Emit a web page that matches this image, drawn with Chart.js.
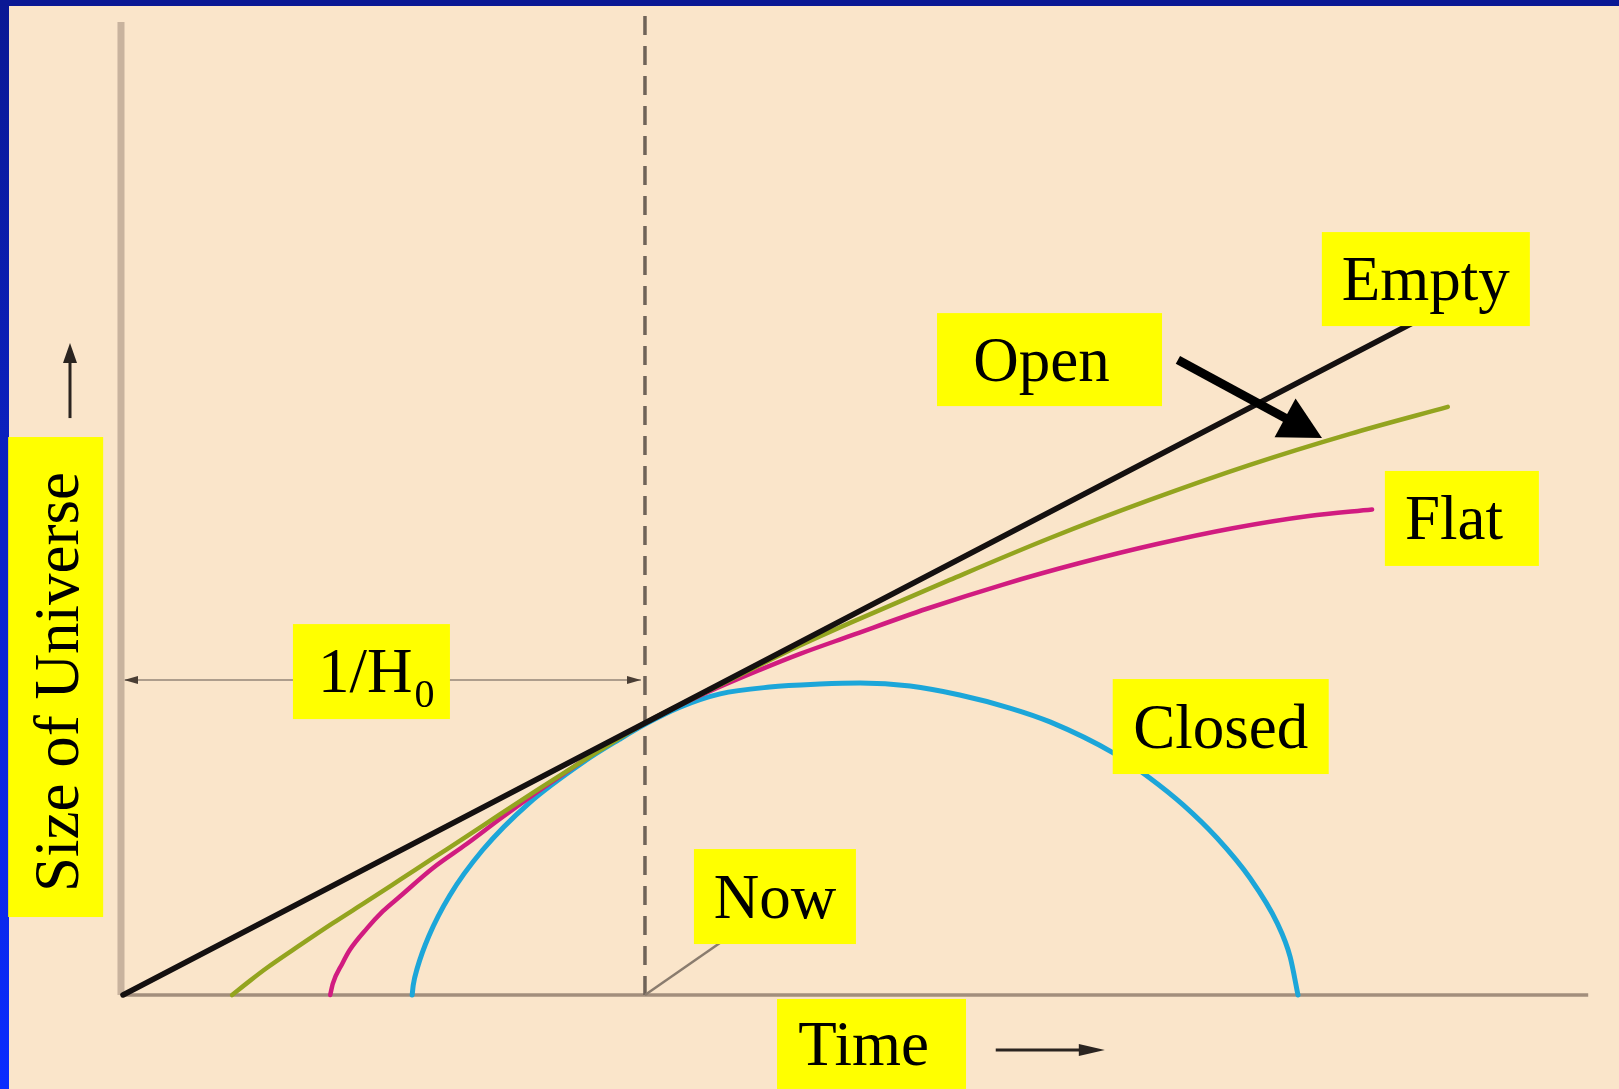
<!DOCTYPE html>
<html><head><meta charset="utf-8">
<script src="https://cdn.jsdelivr.net/npm/chart.js@4.4.1/dist/chart.umd.min.js"></script>
<style>html,body{margin:0;padding:0;background:#fae6ca;overflow:hidden}canvas{display:block}</style>
</head><body>
<canvas id="c" width="1619" height="1089" style="width:1619px;height:1089px"></canvas>
<script>
// Time in units of the Hubble time 1/H0; size relative to today's size (Now = 1)
const emptyTime  = [0, 1, 2.6];
const emptySize  = [0, 1, 2.6];
const openTime   = [0.209, 0.243, 0.276, 0.339, 0.402, 0.467, 0.531, 0.594, 0.659, 0.722, 0.785, 0.851, 0.914, 1.0, 1.105, 1.201, 1.297, 1.393, 1.584, 1.776, 1.967, 2.159, 2.351, 2.538];
const openSize   = [0, 0.052, 0.100, 0.183, 0.264, 0.344, 0.424, 0.503, 0.584, 0.664, 0.743, 0.824, 0.900, 1.0, 1.103, 1.195, 1.285, 1.368, 1.526, 1.680, 1.820, 1.949, 2.063, 2.162];
const flatTime   = [0.397, 0.402, 0.420, 0.435, 0.467, 0.498, 0.531, 0.594, 0.659, 0.722, 0.785, 0.851, 0.914, 1.0, 1.105, 1.220, 1.297, 1.393, 1.540, 1.686, 1.833, 1.979, 2.126, 2.272, 2.393];
const flatSize   = [0, 0.042, 0.115, 0.167, 0.244, 0.308, 0.363, 0.467, 0.556, 0.647, 0.735, 0.822, 0.904, 1.0, 1.100, 1.195, 1.254, 1.320, 1.420, 1.509, 1.588, 1.657, 1.716, 1.761, 1.785];
const closedTime = [0.554, 0.556, 0.564, 0.586, 0.626, 0.689, 0.777, 0.887, 0.951, 1.0, 1.067, 1.144, 1.239, 1.335, 1.412, 1.508, 1.603, 1.699, 1.776, 1.897, 1.967, 2.031, 2.096, 2.159, 2.211, 2.236, 2.251];
const closedSize = [0, 0.035, 0.100, 0.217, 0.366, 0.533, 0.704, 0.863, 0.940, 0.995, 1.058, 1.107, 1.132, 1.143, 1.147, 1.136, 1.103, 1.055, 1.004, 0.890, 0.798, 0.699, 0.577, 0.430, 0.265, 0.140, 0];

const nowTime = 1;          // the "Now" instant = 1/H0 after the Big Bang
const timeAxisEnd = 2.807;  // right end of the time axis
const sizeAxisEnd = 3.577;  // top of the size axis
const nowLineTop = 3.60;    // top of the dashed "now" line
const hubbleArrowSize = 1.158; // height of the 1/H0 double arrow

const labelTexts = ['Empty', 'Open', 'Flat', 'Closed', 'Now', 'Time', '1/H', 'Size of Universe'];

// ---- layout / styling (not data) ----
const X_MIN = -0.2356, X_MAX = 2.866, Y_MIN = -0.3456, Y_MAX = 3.658;
const labelLayout = {
  'Empty':  {t: 2.496, a: 2.632, w: 208, h: 94, dx: 0},
  'Open':   {t: 1.775, a: 2.336, w: 225, h: 93, dx: -8},
  'Flat':   {t: 2.565, a: 1.752, w: 154, h: 95, dx: -8},
  'Closed': {t: 2.103, a: 0.987, w: 216, h: 95, dx: 0},
  'Now':    {t: 1.249, a: 0.362, w: 162, h: 95, dx: 0},
  'Time':   {t: 1.434, a: -0.180, w: 189, h: 90, dx: -8},
  '1/H':    {t: 0.476, a: 1.189, w: 157, h: 95, dx: 0},
  'Size of Universe': {t: -0.129, a: 1.169, w: 95, h: 480, dx: 0}
};
const arrowLayout = {
  open:  {t1: 2.021, a1: 2.335, t2: 2.297, a2: 2.048},
  size:  {t1: -0.1015, a1: 2.121, t2: -0.1015, a2: 2.397},
  time:  {t1: 1.672, a1: -0.202, t2: 1.881, a2: -0.202},
  leader:{t1: 1.0, a1: 0, t2: 1.18, a2: 0.24}
};
const FONT = '"Liberation Serif","Times New Roman",serif';

const pts = (xs, ys) => xs.map((x, i) => ({x: x, y: ys[i]}));

function arrow(ctx, x1, y1, x2, y2, lw, hl, hw, color) {
  const ang = Math.atan2(y2 - y1, x2 - x1);
  const bx = x2 - hl * Math.cos(ang), by = y2 - hl * Math.sin(ang);
  ctx.save();
  ctx.strokeStyle = color; ctx.fillStyle = color; ctx.lineWidth = lw; ctx.lineCap = 'butt';
  ctx.beginPath(); ctx.moveTo(x1, y1); ctx.lineTo(bx + Math.cos(ang) * 2, by + Math.sin(ang) * 2); ctx.stroke();
  ctx.beginPath();
  ctx.moveTo(x2, y2);
  ctx.lineTo(bx + hw / 2 * Math.sin(ang), by - hw / 2 * Math.cos(ang));
  ctx.lineTo(bx - hw / 2 * Math.sin(ang), by + hw / 2 * Math.cos(ang));
  ctx.closePath(); ctx.fill();
  ctx.restore();
}

const backdrop = {
  id: 'backdrop',
  beforeDraw(chart) {
    const ctx = chart.ctx, X = chart.scales.x, Y = chart.scales.y;
    const W = chart.width, H = chart.height;
    ctx.save();
    ctx.fillStyle = '#fae5ca'; ctx.fillRect(0, 0, W, H);
    // blue slide frame (top and left)
    const g = ctx.createLinearGradient(0, 0, 0, H);
    g.addColorStop(0, '#0a1894'); g.addColorStop(0.5, '#0b22c8'); g.addColorStop(1, '#0a2cff');
    ctx.fillStyle = g; ctx.fillRect(0, 0, 9, H);
    ctx.fillStyle = '#0a1894'; ctx.fillRect(0, 0, W, 6);
    // axes
    const x0 = X.getPixelForValue(0), y0 = Y.getPixelForValue(0);
    ctx.strokeStyle = '#c8b39e'; ctx.lineWidth = 7;
    ctx.beginPath(); ctx.moveTo(x0 - 2, y0); ctx.lineTo(x0 - 2, Y.getPixelForValue(sizeAxisEnd)); ctx.stroke();
    ctx.strokeStyle = '#a28e7c'; ctx.lineWidth = 3.5;
    ctx.beginPath(); ctx.moveTo(x0, y0); ctx.lineTo(X.getPixelForValue(timeAxisEnd), y0); ctx.stroke();
    // dashed "now" line
    const xn = X.getPixelForValue(nowTime);
    ctx.strokeStyle = '#6f6358'; ctx.lineWidth = 3.5; ctx.setLineDash([19, 11]);
    ctx.beginPath(); ctx.moveTo(xn, y0); ctx.lineTo(xn, Y.getPixelForValue(nowLineTop)); ctx.stroke();
    ctx.setLineDash([]);
    // leader line to "Now"
    const L = arrowLayout.leader;
    ctx.strokeStyle = '#8a7c6e'; ctx.lineWidth = 2.5;
    ctx.beginPath(); ctx.moveTo(X.getPixelForValue(L.t1), Y.getPixelForValue(L.a1));
    ctx.lineTo(X.getPixelForValue(L.t2), Y.getPixelForValue(L.a2)); ctx.stroke();
    // 1/H0 double arrow
    const yh = Y.getPixelForValue(hubbleArrowSize);
    ctx.strokeStyle = '#ad9d8c'; ctx.lineWidth = 2;
    ctx.beginPath(); ctx.moveTo(x0 + 2, yh); ctx.lineTo(xn - 4, yh); ctx.stroke();
    ctx.fillStyle = '#4a3e34';
    ctx.beginPath(); ctx.moveTo(x0 + 1, yh); ctx.lineTo(x0 + 15, yh - 4); ctx.lineTo(x0 + 15, yh + 4); ctx.closePath(); ctx.fill();
    ctx.beginPath(); ctx.moveTo(xn - 4, yh); ctx.lineTo(xn - 18, yh - 4); ctx.lineTo(xn - 18, yh + 4); ctx.closePath(); ctx.fill();
    ctx.restore();
  }
};

const labels = {
  id: 'labels',
  afterDatasetsDraw(chart) {
    const ctx = chart.ctx, X = chart.scales.x, Y = chart.scales.y;
    ctx.save();
    labelTexts.forEach(txt => {
      const L = labelLayout[txt];
      const cx = X.getPixelForValue(L.t), cy = Y.getPixelForValue(L.a);
      ctx.fillStyle = '#ffff00';
      ctx.fillRect(cx - L.w / 2, cy - L.h / 2, L.w, L.h);
      ctx.fillStyle = '#000';
      ctx.font = '63px ' + FONT;
      ctx.textBaseline = 'alphabetic';
      if (txt === 'Size of Universe') {
        ctx.save(); ctx.translate(cx, cy); ctx.rotate(-Math.PI / 2);
        ctx.font = '63px ' + FONT;
        ctx.textAlign = 'center'; ctx.fillText(txt, -5, 22.5); ctx.restore();
      } else if (txt === '1/H') {
        ctx.textAlign = 'left';
        const x = cx - 53.5;
        ctx.fillText(txt, x, cy + 20.5);
        const w = ctx.measureText(txt).width;
        ctx.font = '40px ' + FONT;
        ctx.fillText('0', x + w + 2, cy + 35.5);
      } else {
        ctx.textAlign = 'center';
        ctx.fillText(txt, cx + L.dx, cy + 21);
      }
    });
    const P = (o) => [X.getPixelForValue(o.t1), Y.getPixelForValue(o.a1), X.getPixelForValue(o.t2), Y.getPixelForValue(o.a2)];
    let a = P(arrowLayout.open);  arrow(ctx, a[0], a[1], a[2], a[3], 9, 42, 44, '#000');
    a = P(arrowLayout.size);      arrow(ctx, a[0], a[1], a[2], a[3], 3, 20, 14, '#2a2420');
    a = P(arrowLayout.time);      arrow(ctx, a[0], a[1], a[2], a[3], 3, 26, 12, '#2a2420');
    ctx.restore();
  }
};

const common = {pointRadius: 0, fill: false, cubicInterpolationMode: 'monotone', clip: false, borderCapStyle: 'round', borderJoinStyle: 'round'};
new Chart(document.getElementById('c'), {
  type: 'line',
  data: {
    datasets: [
      Object.assign({label: 'Empty',  data: pts(emptyTime, emptySize),   borderColor: '#141010', borderWidth: 5.5}, common),
      Object.assign({label: 'Open',   data: pts(openTime, openSize),     borderColor: '#93a41f', borderWidth: 4.5}, common),
      Object.assign({label: 'Flat',   data: pts(flatTime, flatSize),     borderColor: '#d11c80', borderWidth: 4.5}, common),
      Object.assign({label: 'Closed', data: pts(closedTime, closedSize), borderColor: '#1ca6d9', borderWidth: 5}, common)
    ]
  },
  options: {
    responsive: false, animation: false, devicePixelRatio: 1,
    layout: {padding: 0},
    scales: {
      x: {type: 'linear', min: X_MIN, max: X_MAX, display: false},
      y: {type: 'linear', min: Y_MIN, max: Y_MAX, display: false}
    },
    plugins: {legend: {display: false}, tooltip: {enabled: false}}
  },
  plugins: [backdrop, labels]
});
</script>
</body></html>
